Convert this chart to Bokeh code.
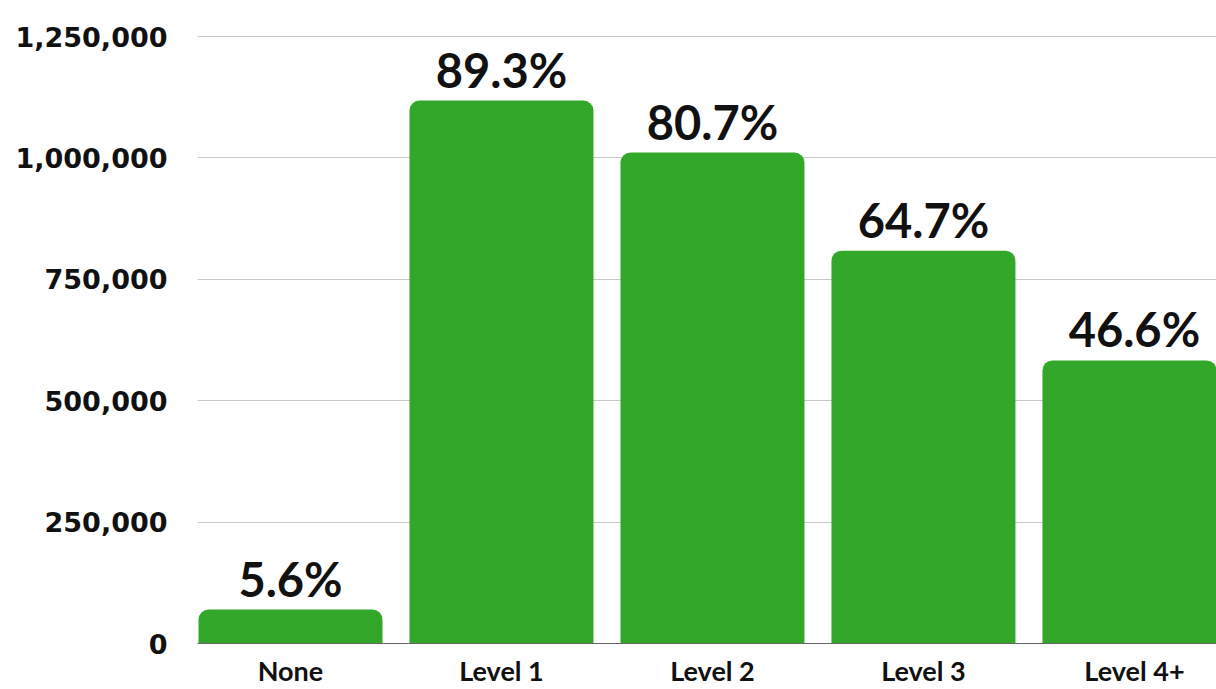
from bokeh.plotting import figure
from bokeh.models import ColumnDataSource, FixedTicker, NumeralTickFormatter, Range1d, LabelSet
from bokeh.core.properties import value
from bokeh.embed import file_html
from bokeh.resources import INLINE

categories = ["None", "Level 1", "Level 2", "Level 3", "Level 4+"]
counts = [70000, 1118000, 1011000, 809000, 583000]
pct_labels = ["5.6%", "89.3%", "80.7%", "64.7%", "46.6%"]
y_ticks = [0, 250000, 500000, 750000, 1000000, 1250000]

FONT = "Lato"
GREEN = "#33a72a"

xs = list(range(len(categories)))
src = ColumnDataSource(dict(x=xs, top=counts, label=pct_labels))

p = figure(width=1216, height=689, output_backend="svg", toolbar_location=None,
           x_range=Range1d(-0.4408, 4.389), y_range=Range1d(0, 1282950),
           min_border_left=197, min_border_right=0, min_border_top=20, min_border_bottom=46)
p.outline_line_color = None
p.background_fill_color = "white"

p.vbar(x="x", top="top", bottom=0, width=0.872, source=src, fill_color=GREEN,
       line_color=None, border_radius=(10, 10, 0, 0))

labels = LabelSet(x="x", y="top", text="label", source=src, text_align="center",
                  text_baseline="alphabetic", y_offset=13, text_font=value(FONT),
                  text_font_style="bold", text_font_size="47px", text_color="#111111")
p.add_layout(labels)

p.xgrid.grid_line_color = None
p.ygrid.grid_line_color = "#c8c8c8"
p.ygrid.grid_line_width = 1
p.yaxis.ticker = FixedTicker(ticks=y_ticks)
p.yaxis.formatter = NumeralTickFormatter(format="0,0")
p.yaxis.axis_line_color = None
p.yaxis.major_tick_line_color = None
p.yaxis.minor_tick_line_color = None
p.yaxis.major_label_text_font = "DejaVu Sans"
p.yaxis.major_label_text_font_style = "bold"
p.yaxis.major_label_text_font_size = "27px"
p.yaxis.major_label_text_color = "#111111"
p.yaxis.major_label_standoff = 24

p.xaxis.ticker = FixedTicker(ticks=xs)
p.xaxis.major_label_overrides = {i: c for i, c in enumerate(categories)}
p.xaxis.axis_line_color = "#666666"
p.xaxis.major_tick_line_color = None
p.xaxis.minor_tick_line_color = None
p.xaxis.major_label_text_font = FONT
p.xaxis.major_label_text_font_style = "bold"
p.xaxis.major_label_text_font_size = "27px"
p.xaxis.major_label_text_color = "#111111"
p.xaxis.major_label_standoff = 4

open("out.html", "w").write(file_html(p, INLINE))
